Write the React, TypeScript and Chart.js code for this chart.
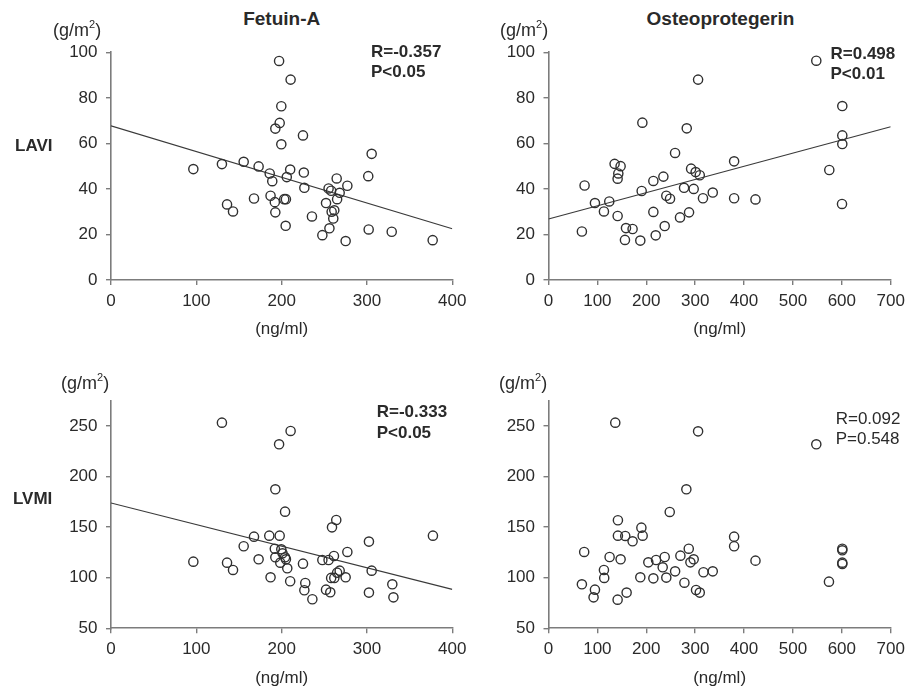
import React, { useEffect, useRef } from "react";
import { Chart, registerables } from "chart.js";

Chart.register(...registerables);

const FONT = '"Liberation Sans", Arial, Helvetica, sans-serif';
Chart.defaults.font.family = FONT;

// ---------- Data ----------
// Fetuin-A vs LAVI
const fetuinLaviX = [96.5, 130, 155.5, 173, 136, 143, 167.6, 187, 186, 189, 192.6, 197.7, 197, 199.6, 199.6, 192, 192.6, 203, 205, 204.7, 206, 210, 210.5, 225, 226, 226.6, 235.5, 247.7, 252, 255, 258, 256, 258.6, 260.5, 261.7, 264.5, 265, 268, 277, 275, 301.5, 305.5, 302, 329, 377];
const fetuinLaviY = [48.7, 50.9, 51.9, 49.9, 33.2, 30.1, 35.8, 37.0, 46.8, 43.4, 66.5, 69.0, 96.2, 76.3, 59.6, 34.2, 29.7, 35.5, 35.5, 23.8, 45.2, 48.5, 88.0, 63.5, 47.2, 40.5, 27.9, 19.7, 33.8, 40.2, 39.2, 22.7, 30.0, 27.0, 30.6, 44.6, 35.5, 38.3, 41.4, 17.1, 45.6, 55.4, 22.2, 21.2, 17.5];
const fetuinLaviTrendX = [0, 400];
const fetuinLaviTrendY = [67.7, 22.5];

// Osteoprotegerin vs LAVI
const opgLaviX = [73.8, 68.3, 95, 113.4, 124.3, 135.2, 147.5, 142.8, 141.4, 141.4, 158.5, 172, 156.4, 187.8, 190.6, 192, 214.5, 214.5, 219.3, 235, 237.7, 241, 248.6, 258.9, 269, 277.3, 282.8, 287.5, 291.7, 297, 301, 306, 309.4, 316, 336, 379.7, 379.7, 423.4, 547.8, 574.4, 601, 601, 601, 600.4];
const opgLaviY = [41.5, 21.3, 33.8, 30.1, 34.5, 51.0, 50.0, 46.8, 44.5, 28.1, 22.8, 22.4, 17.6, 17.3, 39.1, 69.1, 43.5, 29.9, 19.6, 45.4, 23.7, 37.0, 35.7, 55.8, 27.5, 40.5, 66.6, 29.7, 48.9, 40.0, 47.4, 88.0, 46.0, 35.9, 38.4, 52.1, 35.9, 35.4, 96.3, 48.3, 76.4, 63.5, 59.7, 33.4];
const opgLaviTrendX = [0, 700];
const opgLaviTrendY = [26.8, 67.3];

// Fetuin-A vs LVMI
const fetuinLvmiX = [96.5, 130, 136, 143, 155.5, 167.6, 173, 185.5, 187, 192.6, 192, 192.6, 197, 197.7, 198.4, 199.6, 201, 204, 204, 205, 206.6, 210, 210.5, 225, 226.6, 227.7, 236, 247.7, 252, 255, 257, 259, 258, 261.3, 261.7, 264, 265, 268, 275, 277, 302.3, 305.5, 302.3, 329.7, 331, 377.3];
const fetuinLvmiY = [115.9, 253.3, 114.9, 107.7, 131.1, 140.6, 118.2, 141.6, 100.4, 187.4, 128.7, 120.2, 231.9, 141.6, 114.9, 128.1, 124.1, 120.2, 165.3, 118.2, 109.3, 96.5, 245.1, 113.9, 87.6, 94.8, 78.7, 117.5, 88.2, 117.5, 85.6, 149.8, 99.8, 121.5, 99.8, 157.1, 105.0, 107.0, 100.4, 125.5, 135.7, 107.0, 85.3, 93.5, 80.6, 141.6];
const fetuinLvmiTrendX = [0, 400];
const fetuinLvmiTrendY = [173.9, 88.5];

// Osteoprotegerin vs LVMI
const opgLvmiX = [73, 68.3, 95, 92.2, 113.4, 114, 125, 136.6, 142, 142, 141.4, 147.5, 157, 159.8, 172, 187.8, 190, 192.6, 204.2, 214.5, 220, 237.7, 233.6, 241, 248, 259, 269.8, 278, 282, 286.9, 290.3, 297, 301.8, 306, 309.4, 317, 336, 379.7, 379.7, 423.4, 547.8, 573.7, 601, 601, 601, 601];
const opgLvmiY = [125.5, 93.5, 88.2, 80.6, 107.7, 99.8, 120.5, 253.3, 156.8, 141.6, 78.3, 118.2, 141.3, 85.3, 136.0, 100.4, 149.5, 141.6, 115.2, 99.4, 117.5, 120.5, 110.3, 100.1, 165.0, 106.3, 121.8, 95.1, 187.4, 128.7, 115.2, 118.2, 87.9, 244.7, 85.3, 105.4, 106.3, 140.6, 131.1, 116.9, 231.9, 96.1, 128.7, 127.1, 114.9, 113.6];

// Tick setup
const laviTicks = [0, 20, 40, 60, 80, 100];
const lvmiTicks = [50, 100, 150, 200, 250];
const fetuinTicks = [0, 100, 200, 300, 400];
const opgTicks = [0, 100, 200, 300, 400, 500, 600, 700];

type Area = { l: number; r: number; t: number; b: number };
type PanelDef = {
  xs: number[];
  ys: number[];
  trendX?: number[];
  trendY?: number[];
  xTicks: number[];
  yTicks: number[];
  yMax: number;
  area: Area;
};

const AXIS = "#7c7c7c";
const TEXT = "#2a2a2a";
const WY = 60;
const HX = 62;

function PanelChart({ p }: { p: PanelDef }) {
  const ref = useRef<HTMLCanvasElement | null>(null);
  const { l, r, t, b } = p.area;
  const cLeft = Math.floor(l) - 70;
  const cTop = Math.floor(t) - 20;
  const cW = Math.ceil(r) + 22 - cLeft;
  const cH = Math.ceil(b) + 66 - cTop;

  useEffect(() => {
    if (!ref.current) return;
    const datasets: any[] = [];
    if (p.trendX && p.trendY) {
      datasets.push({
        data: p.trendX.map((x, i) => ({ x, y: p.trendY![i] })),
        showLine: true,
        pointRadius: 0,
        borderColor: "#3a3a3a",
        borderWidth: 1.2,
        order: 2,
      });
    }
    datasets.push({
      data: p.xs.map((x, i) => ({ x, y: p.ys[i] })),
      pointRadius: 4.6,
      pointBorderWidth: 1.4,
      borderColor: "#303030",
      pointBorderColor: "#303030",
      backgroundColor: "rgba(0,0,0,0)",
      pointBackgroundColor: "rgba(0,0,0,0)",
      order: 1,
    });
    const xMin = p.xTicks[0];
    const xMax = p.xTicks[p.xTicks.length - 1];
    const yMin = p.yTicks[0];
    const xStep = p.xTicks[1] - p.xTicks[0];
    const yStep = p.yTicks[1] - p.yTicks[0];
    const chart = new Chart(ref.current, {
      type: "scatter",
      data: { datasets },
      options: {
        responsive: false,
        animation: false,
        devicePixelRatio: 1,
        events: [],
        layout: {
          padding: {
            left: l - cLeft - WY,
            top: t - cTop,
            right: cLeft + cW - r,
            bottom: cTop + cH - b - HX,
          },
        },
        plugins: {
          legend: { display: false },
          tooltip: { enabled: false },
          title: { display: false },
        },
        scales: {
          x: {
            type: "linear",
            min: xMin,
            max: xMax,
            afterFit: (s: any) => {
              s.height = HX;
            },
            ticks: {
              stepSize: xStep,
              autoSkip: false,
              maxRotation: 0,
              color: TEXT,
              padding: 6,
              font: { family: FONT, size: 17 },
            },
            grid: {
              drawOnChartArea: false,
              drawTicks: true,
              tickLength: 5,
              color: AXIS,
              lineWidth: 1.4,
            },
            border: { display: true, color: AXIS, width: 1.6 },
            title: {
              display: true,
              text: "(ng/ml)",
              color: TEXT,
              font: { family: FONT, size: 17, lineHeight: 1.2 },
              padding: { top: 0, bottom: 2 },
            },
          },
          y: {
            type: "linear",
            min: yMin,
            max: p.yMax,
            bounds: "data",
            afterFit: (s: any) => {
              s.width = WY;
            },
            afterBuildTicks: (s: any) => {
              s.ticks = p.yTicks.map((v) => ({ value: v }));
            },
            ticks: {
              stepSize: yStep,
              includeBounds: false,
              autoSkip: false,
              color: TEXT,
              padding: 8.5,
              font: { family: FONT, size: 17 },
            },
            grid: {
              drawOnChartArea: false,
              drawTicks: true,
              tickLength: 5,
              color: AXIS,
              lineWidth: 1.4,
            },
            border: { display: true, color: AXIS, width: 1.6 },
          },
        },
      } as any,
    });
    return () => chart.destroy();
  }, []);

  return (
    <canvas
      ref={ref}
      width={cW}
      height={cH}
      style={{ position: "absolute", left: cLeft, top: cTop, width: cW, height: cH }}
    />
  );
}

function Txt({
  x,
  y,
  size,
  bold,
  center,
  children,
}: {
  x: number;
  y: number;
  size: number;
  bold?: boolean;
  center?: boolean;
  children: React.ReactNode;
}) {
  return (
    <div
      style={{
        position: "absolute",
        left: x,
        top: y,
        transform: center ? "translate(-50%, -50%)" : "translate(0, -50%)",
        fontFamily: FONT,
        fontSize: size,
        fontWeight: bold ? 700 : 400,
        color: TEXT,
        lineHeight: 1,
        whiteSpace: "nowrap",
      }}
    >
      {children}
    </div>
  );
}

function Unit({ x, y }: { x: number; y: number }) {
  return (
    <Txt x={x} y={y} size={18}>
      (g/m<sup style={{ fontSize: 11, verticalAlign: "top", position: "relative", top: -2 }}>2</sup>)
    </Txt>
  );
}

const panels: PanelDef[] = [
  {
    xs: fetuinLaviX,
    ys: fetuinLaviY,
    trendX: fetuinLaviTrendX,
    trendY: fetuinLaviTrendY,
    xTicks: fetuinTicks,
    yTicks: laviTicks,
    yMax: 100,
    area: { l: 111, r: 452.3, t: 52.3, b: 280 },
  },
  {
    xs: opgLaviX,
    ys: opgLaviY,
    trendX: opgLaviTrendX,
    trendY: opgLaviTrendY,
    xTicks: opgTicks,
    yTicks: laviTicks,
    yMax: 100,
    area: { l: 548.5, r: 890.7, t: 52.3, b: 280 },
  },
  {
    xs: fetuinLvmiX,
    ys: fetuinLvmiY,
    trendX: fetuinLvmiTrendX,
    trendY: fetuinLvmiTrendY,
    xTicks: fetuinTicks,
    yTicks: lvmiTicks,
    yMax: 275,
    area: { l: 111, r: 452.3, t: 400.7, b: 628.3 },
  },
  {
    xs: opgLvmiX,
    ys: opgLvmiY,
    xTicks: opgTicks,
    yTicks: lvmiTicks,
    yMax: 275,
    area: { l: 548.5, r: 890.7, t: 400.7, b: 628.3 },
  },
];

export default function App() {
  return (
    <div
      style={{
        position: "absolute",
        left: 0,
        top: 0,
        width: 908,
        height: 691,
        background: "#ffffff",
        overflow: "hidden",
      }}
    >
      {panels.map((p, i) => (
        <PanelChart key={i} p={p} />
      ))}

      <Txt x={281.7} y={18} size={19} bold center>Fetuin-A</Txt>
      <Txt x={720.5} y={18} size={19} bold center>Osteoprotegerin</Txt>

      <Unit x={53} y={30} />
      <Unit x={500} y={30} />
      <Unit x={61} y={383} />
      <Unit x={499} y={383} />

      <Txt x={15} y={145} size={17} bold>LAVI</Txt>
      <Txt x={13} y={498} size={17} bold>LVMI</Txt>

      <Txt x={371} y={51} size={17} bold>R=-0.357</Txt>
      <Txt x={371} y={71} size={17} bold>P&lt;0.05</Txt>

      <Txt x={830.5} y={52.5} size={17} bold>R=0.498</Txt>
      <Txt x={830.5} y={73} size={17} bold>P&lt;0.01</Txt>

      <Txt x={376.7} y={411} size={17} bold>R=-0.333</Txt>
      <Txt x={376.7} y={431.7} size={17} bold>P&lt;0.05</Txt>

      <Txt x={835.7} y={417.7} size={17}>R=0.092</Txt>
      <Txt x={835.7} y={438.3} size={17}>P=0.548</Txt>
    </div>
  );
}
